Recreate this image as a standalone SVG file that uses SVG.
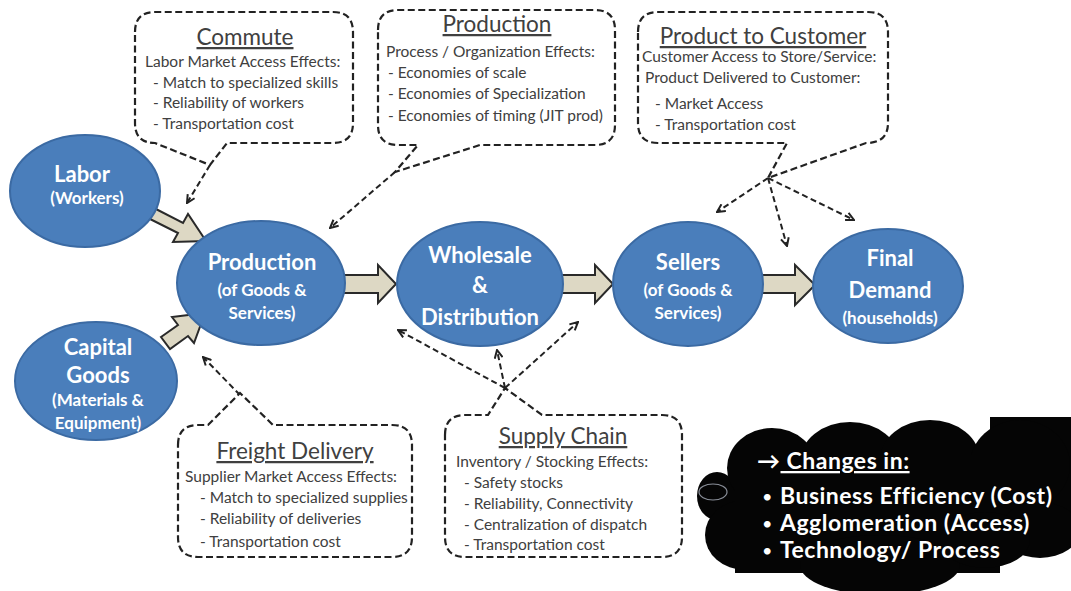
<svg xmlns="http://www.w3.org/2000/svg" width="1071" height="591" viewBox="0 0 1071 591">
<defs>
<style>
.node{fill:#4a7ebb;stroke:#3b6aa3;stroke-width:2}
.nt{font-family:Lato,"Open Sans",sans-serif;font-weight:bold;fill:#fff;text-anchor:middle}
.big{font-size:22px}
.sm{font-size:17px}
.callout{fill:#fff;stroke:#222;stroke-width:2.2;stroke-dasharray:7 3.5}
.ct{font-family:Lato,"Open Sans",sans-serif;font-size:15.5px;fill:#404040}
.title{font-family:Lato,"Open Sans",sans-serif;font-size:22.5px;fill:#404040;text-anchor:middle;text-decoration:underline}
.dash{fill:none;stroke:#222;stroke-width:2;stroke-dasharray:6 3.5;marker-end:url(#ah)}
.block{fill:#ddd8c4;stroke:#2a2a2a;stroke-width:2;stroke-linejoin:miter}
.cloud{fill:#050505}
.cw{font-family:Lato,"Open Sans",sans-serif;font-weight:bold;fill:#fff;font-size:23px;letter-spacing:0.5px}
.bul{font-family:Lato,"Open Sans",sans-serif;fill:#fff;font-size:18px}
</style>
<marker id="ah" viewBox="0 0 10 10" refX="9" refY="5" markerWidth="10" markerHeight="10" markerUnits="userSpaceOnUse" orient="auto">
<path d="M1,1 L9,5 L1,9" fill="none" stroke="#222" stroke-width="2"/>
</marker>
</defs>
<rect width="1071" height="591" fill="#fff"/>

<g id="connectors">
<path class="dash" d="M210,165 L187,203"/>
<path class="dash" d="M395,172 L330,228"/>
<path class="dash" d="M768,178 L717,212"/>
<path class="dash" d="M768,178 L787,246"/>
<path class="dash" d="M768,178 L854,220"/>
<path class="dash" d="M240,395 L203,357"/>
<path class="dash" d="M505,388 L398,330"/>
<path class="dash" d="M505,388 L497,350"/>
<path class="dash" d="M505,388 L578,322"/>
<path class="block" d="M152,207 L183,223 L188,214 L206,241 L173,242 L178,233 L146,217 Z"/>
<path class="block" d="M161,337 L178,325 L172,317 L205,313 L194,343 L188,336 L170,349 Z"/>
<path class="block" d="M343,275 H378 V265 L396,284 L378,303 V293 H343 Z"/>
<path class="block" d="M561,275 H595 V265 L613,284 L595,303 V293 H561 Z"/>
<path class="block" d="M761,275 H795 V265 L815,285 L795,305 V293 H761 Z"/>
</g>

<g id="commute">
<path class="callout" d="M135,32 Q135,12 155,12 H333 Q353,12 353,32 V123 Q353,143 333,143 H227 L210,165 L155,143 Q135,143 135,123 Z"/>
<text class="title" x="245" y="45">Commute</text>
<text class="ct" x="145" y="67">Labor Market Access Effects:</text>
<text class="ct" x="153" y="88">- Match to specialized skills</text>
<text class="ct" x="153" y="108">- Reliability of workers</text>
<text class="ct" x="153" y="129">- Transportation cost</text>
</g>

<g id="production-callout">
<path class="callout" d="M378,30 Q378,10 398,10 H595 Q615,10 615,30 V125 Q615,145 595,145 H480 L395,172 L418,145 H398 Q378,145 378,125 Z"/>
<text class="title" x="497" y="32">Production</text>
<text class="ct" x="386" y="57">Process / Organization Effects:</text>
<text class="ct" x="388" y="78">- Economies of scale</text>
<text class="ct" x="388" y="99">- Economies of Specialization</text>
<text class="ct" x="388" y="121">- Economies of timing (JIT prod)</text>
</g>

<g id="product-to-customer">
<path class="callout" d="M638,32 Q638,12 658,12 H868 Q888,12 888,32 V123 Q888,143 866,143 L768,178 L787,143 H658 Q638,143 638,123 Z"/>
<text class="title" x="763" y="44">Product to Customer</text>
<text class="ct" x="642" y="62">Customer Access to Store/Service:</text>
<text class="ct" x="645" y="83">Product Delivered to Customer:</text>
<text class="ct" x="655" y="109">- Market Access</text>
<text class="ct" x="655" y="130">- Transportation cost</text>
</g>

<g id="freight-delivery">
<path class="callout" d="M178,445 Q178,425 198,425 H208 L240,393 L273,425 H392 Q412,425 412,445 V537 Q412,557 392,557 H198 Q178,557 178,537 Z"/>
<text class="title" x="295" y="459">Freight Delivery</text>
<text class="ct" x="185" y="482">Supplier Market Access Effects:</text>
<text class="ct" x="200" y="503">- Match to specialized supplies</text>
<text class="ct" x="200" y="524">- Reliability of deliveries</text>
<text class="ct" x="200" y="547">- Transportation cost</text>
</g>

<g id="supply-chain">
<path class="callout" d="M445,435 Q445,415 465,415 H488 L505,388 L542,415 H662 Q682,415 682,435 V537 Q682,557 662,557 H465 Q445,557 445,537 Z"/>
<text class="title" x="563" y="444">Supply Chain</text>
<text class="ct" x="456" y="467">Inventory / Stocking Effects:</text>
<text class="ct" x="464" y="488">- Safety stocks</text>
<text class="ct" x="464" y="509">- Reliability, Connectivity</text>
<text class="ct" x="464" y="530">- Centralization of dispatch</text>
<text class="ct" x="464" y="550">- Transportation cost</text>
</g>

<g id="labor">
<ellipse class="node" cx="85" cy="191" rx="75" ry="56"/>
<text class="nt big" x="82" y="182">Labor</text>
<text class="nt sm" x="87" y="204">(Workers)</text>
</g>

<g id="capital-goods">
<ellipse class="node" cx="96" cy="381" rx="81" ry="59"/>
<text class="nt big" x="98" y="355">Capital</text>
<text class="nt big" x="98" y="383">Goods</text>
<text class="nt sm" x="98" y="406">(Materials &amp;</text>
<text class="nt sm" x="98" y="429">Equipment)</text>
</g>

<g id="production">
<ellipse class="node" cx="261" cy="283" rx="84" ry="62"/>
<text class="nt big" x="262" y="270">Production</text>
<text class="nt sm" x="262" y="296">(of Goods &amp;</text>
<text class="nt sm" x="262" y="319">Services)</text>
</g>

<g id="wholesale">
<ellipse class="node" cx="480" cy="284" rx="83" ry="62"/>
<text class="nt big" x="480" y="263">Wholesale</text>
<text class="nt big" x="480" y="293">&amp;</text>
<text class="nt big" x="480" y="325">Distribution</text>
</g>

<g id="sellers">
<ellipse class="node" cx="688" cy="284" rx="75" ry="62"/>
<text class="nt big" x="688" y="270">Sellers</text>
<text class="nt sm" x="688" y="296">(of Goods &amp;</text>
<text class="nt sm" x="688" y="319">Services)</text>
</g>

<g id="final-demand">
<ellipse class="node" cx="888" cy="286" rx="75" ry="57"/>
<text class="nt big" x="890" y="266">Final</text>
<text class="nt big" x="890" y="298">Demand</text>
<text class="nt sm" x="890" y="324">(households)</text>
</g>

<g id="changes-cloud">
<g class="cloud">
<ellipse cx="717" cy="496" rx="20" ry="24"/>
<ellipse cx="772" cy="468" rx="45" ry="40"/>
<ellipse cx="850" cy="462" rx="50" ry="40"/>
<ellipse cx="930" cy="460" rx="50" ry="40"/>
<rect x="990" y="417" width="81" height="108"/>
<ellipse cx="1020" cy="465" rx="50" ry="45"/>
<ellipse cx="1040" cy="530" rx="40" ry="28"/>
<ellipse cx="745" cy="535" rx="40" ry="35"/>
<rect x="735" y="455" width="265" height="118"/>
<ellipse cx="880" cy="565" rx="80" ry="30"/>
<ellipse cx="985" cy="540" rx="45" ry="28"/>
</g>
<ellipse cx="713" cy="492" rx="14" ry="8" fill="none" stroke="#8a8f99" stroke-width="1.2"/>
<text class="cw" x="757" y="469" font-weight="normal">→<tspan text-decoration="underline"> Changes in:</tspan></text>
<text class="bul" x="762" y="503">•</text>
<text class="cw" x="780" y="504">Business Efficiency (Cost)</text>
<text class="bul" x="762" y="530">•</text>
<text class="cw" x="780" y="531">Agglomeration (Access)</text>
<text class="bul" x="762" y="557">•</text>
<text class="cw" x="780" y="558">Technology/ Process</text>
</g>
</svg>
